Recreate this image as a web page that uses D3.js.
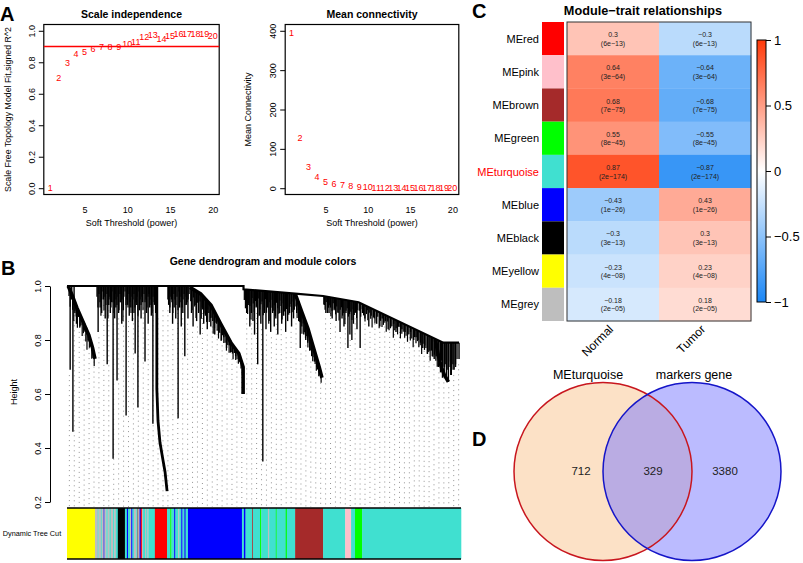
<!DOCTYPE html>
<html><head><meta charset="utf-8">
<script src="https://cdn.jsdelivr.net/npm/d3@7"></script>
<style>body{margin:0;background:#fff} text{font-family:"Liberation Sans",Arial,Helvetica,sans-serif}</style>
</head><body><svg id="c" width="803" height="563"></svg>
<script>
// ---------------- DATA ----------------
// Panel A
const powers = [1,2,3,4,5,6,7,8,9,10,11,12,13,14,15,16,17,18,19,20];
const sftR2 = [0.0,0.70,0.797,0.851,0.864,0.885,0.895,0.899,0.899,0.914,0.929,0.964,0.975,0.952,0.971,0.981,0.983,0.983,0.983,0.969];
const meanK = [394,129,55,28,16,11,7.5,5,3.4,2.5,2,1.6,1.3,1.1,0.9,0.8,0.7,0.6,0.5,0.4];
const r2Cut = 0.9;
const r2Ticks = [0,0.2,0.4,0.6,0.8,1.0];
const kTicks = [0,100,200,300,400];
const powerTicks = [5,10,15,20];

// Panel B : dendrogram (leaf index 0..1000, height)
const heightTicks = [0.2,0.4,0.6,0.8,1.0];
const canopy = [[0,1.0],[448,1.0],[448,0.988],[579,0.972],[650,0.963],[740,0.94],[955,0.79],[995,0.79]];
const sweeps = [
  [[3,1.0],[12,0.97],[25,0.92],[40,0.87],[55,0.82],[65,0.77],[71,0.73]],
  [[228,1.0],[228,0.62],[231,0.5],[236,0.42],[243,0.36],[249,0.31],[254,0.24]],
  [[312,0.995],[340,0.97],[365,0.93],[390,0.86],[416,0.79],[436,0.75],[447,0.70],[447,0.6]],
  [[579,0.972],[597,0.9],[612,0.84],[624,0.78],[640,0.7],[647,0.66]],
  [[935,0.8],[943,0.74],[950,0.7],[958,0.67],[968,0.645]]
];
// long branches: [leaf index, top height, bottom height]
const branches = [
  [8,0.985,0.69],[12,1.0,0.95],[15,0.96,0.46],[18,1.0,0.93],[20,0.94,0.9],[24,0.93,0.86],[28,0.91,0.89],[33,0.9,0.85],[37,0.885,0.87],[42,0.87,0.84],[46,0.86,0.83],[50,0.845,0.82],[54,0.823,0.8],[58,0.81,0.79],[63,0.78,0.76],[68,0.75,0.74],
  [79,1.0,0.83],[84,1.0,0.92],[88,1.0,0.9],[93,1.0,0.95],[97,1.0,0.88],[102,1.0,0.71],[106,1.0,0.93],[110,1.0,0.9],[113,1.0,0.94],[117,1.0,0.36],[121,1.0,0.88],[124,1.0,0.92],[127,1.0,0.65],[131,1.0,0.9],[135,1.0,0.94],[139,1.0,0.86],[143,1.0,0.91],[150,1.0,0.52],[154,1.0,0.93],[158,1.0,0.89],[162,1.0,0.92],[166,1.0,0.87],[170,1.0,0.9],[173,1.0,0.75],[177,1.0,0.93],[180,1.0,0.55],[184,1.0,0.91],[188,1.0,0.88],[192,1.0,0.94],[198,1.0,0.72],[202,1.0,0.9],[206,1.0,0.86],[210,1.0,0.92],[214,1.0,0.89],[218,1.0,0.49],[222,1.0,0.93],[225,1.0,0.9],
  [258,1.0,0.93],[261,1.0,0.9],[265,1.0,0.95],[268,1.0,0.86],[272,1.0,0.92],[276,1.0,0.88],[282,1.0,0.51],[286,1.0,0.92],[290,1.0,0.85],[294,1.0,0.9],[299,1.0,0.74],[303,1.0,0.93],[307,1.0,0.88],
  [316,0.99,0.9],[320,0.99,0.85],[325,0.985,0.93],[329,0.98,0.87],[334,0.975,0.9],[338,0.972,0.82],[343,0.965,0.92],[347,0.96,0.86],[351,0.955,0.89],[356,0.945,0.84],[360,0.94,0.9],[365,0.93,0.85],[370,0.92,0.87],[375,0.9,0.82],[380,0.89,0.86],[386,0.87,0.83],[392,0.855,0.8],[398,0.84,0.81],[405,0.82,0.77],[412,0.8,0.78],[420,0.78,0.75],[428,0.765,0.74],[440,0.74,0.72],
  [452,0.988,0.95],[456,0.988,0.9],[460,0.987,0.93],[464,0.986,0.85],[468,0.986,0.9],[472,0.985,0.87],[476,0.984,0.82],[480,0.984,0.92],[484,0.983,0.71],[488,0.983,0.89],[492,0.982,0.86],[497,0.981,0.35],[501,0.98,0.9],[505,0.98,0.84],[509,0.98,0.92],[513,0.979,0.87],[517,0.979,0.83],[522,0.978,0.9],[526,0.978,0.85],[530,0.977,0.88],[535,0.977,0.82],[540,0.976,0.9],[545,0.976,0.86],[550,0.975,0.89],[555,0.975,0.83],[560,0.974,0.87],[565,0.974,0.9],[570,0.973,0.85],[575,0.973,0.88],
  [583,0.96,0.9],[588,0.945,0.87],[592,0.93,0.77],[596,0.905,0.85],[601,0.885,0.82],[606,0.865,0.8],[611,0.845,0.79],[616,0.82,0.76],[621,0.8,0.74],[628,0.76,0.72],[634,0.73,0.7],[640,0.7,0.68],
  [653,0.963,0.93],[657,0.962,0.9],[661,0.961,0.94],[665,0.96,0.9],[669,0.959,0.92],[673,0.958,0.88],[678,0.957,0.91],[683,0.955,0.87],[688,0.954,0.9],[693,0.953,0.83],[698,0.952,0.88],[703,0.95,0.85],[708,0.949,0.9],[713,0.948,0.77],[718,0.947,0.82],[723,0.945,0.8],[727,0.944,0.86],[731,0.943,0.9],[736,0.941,0.84],
  [744,0.937,0.77],[750,0.933,0.9],[756,0.929,0.88],[762,0.925,0.91],[766,0.922,0.85],[772,0.918,0.89],[780,0.912,0.88],[786,0.908,0.86],[794,0.902,0.85],[800,0.898,0.88],[808,0.893,0.87],[815,0.888,0.84],[822,0.883,0.85],[829,0.878,0.86],[835,0.874,0.83],[842,0.869,0.85],[850,0.863,0.84],[858,0.858,0.83],[865,0.853,0.82],[872,0.848,0.83],[880,0.842,0.8],[886,0.838,0.81],[891,0.835,0.8],[897,0.83,0.79],[903,0.826,0.77],[908,0.823,0.78],[915,0.818,0.75],[921,0.814,0.76],[927,0.809,0.74],[932,0.806,0.73],[937,0.802,0.74],[943,0.798,0.7],[948,0.795,0.68],[953,0.791,0.66],[958,0.79,0.7],[963,0.79,0.66],[968,0.79,0.645],[974,0.79,0.67],[980,0.79,0.69],[986,0.79,0.71],[995,0.79,0.73]
];
// short hairs hanging from a parent outline: parent (-1 = canopy, else sweep no.), leaf range, hair lengths
const fringes = [
  {parent:0, from:5, to:69, len:[0.03,0.06,0.02,0.05,0.08,0.03,0.04,0.07,0.02,0.05,0.03,0.06,0.04,0.02,0.05,0.07,0.03,0.04,0.02,0.05,0.03,0.04]},
  {parent:-1, from:76, to:226, len:[0.04,0.08,0.03,0.06,0.11,0.05,0.02,0.09,0.04,0.07,0.03,0.12,0.05,0.04,0.08,0.02,0.06,0.1,0.03,0.05,0.07,0.04,0.09,0.03,0.06,0.05,0.13,0.04,0.02,0.07,0.05,0.08,0.03,0.06,0.1,0.04,0.05,0.03,0.08,0.06,0.04,0.11,0.02,0.05,0.07,0.04,0.09,0.03,0.06,0.05,0.08,0.04,0.03,0.07,0.05,0.1,0.04,0.06,0.03,0.05]},
  {parent:-1, from:256, to:310, len:[0.05,0.03,0.08,0.04,0.06,0.1,0.03,0.05,0.07,0.04,0.09,0.02,0.06,0.04,0.08,0.05,0.03,0.07,0.04,0.06,0.05,0.03]},
  {parent:2, from:314, to:445, len:[0.05,0.08,0.03,0.06,0.1,0.04,0.07,0.03,0.09,0.05,0.06,0.04,0.08,0.03,0.07,0.05,0.04,0.09,0.06,0.03,0.05,0.07,0.04,0.06,0.03,0.05,0.04,0.06,0.03,0.05,0.04,0.03,0.05,0.02,0.04,0.03,0.04,0.02,0.03,0.04]},
  {parent:-1, from:450, to:577, len:[0.04,0.07,0.03,0.09,0.05,0.06,0.11,0.03,0.05,0.08,0.04,0.06,0.1,0.03,0.07,0.05,0.04,0.09,0.06,0.03,0.08,0.05,0.12,0.04,0.06,0.03,0.07,0.05,0.09,0.04,0.06,0.08,0.03,0.05,0.1,0.04,0.07,0.03,0.06,0.05,0.08,0.04,0.05,0.07,0.03,0.06]},
  {parent:3, from:581, to:645, len:[0.04,0.07,0.03,0.06,0.05,0.08,0.03,0.05,0.06,0.04,0.07,0.03,0.05,0.04,0.06,0.03,0.04,0.05,0.03,0.04,0.02,0.03]},
  {parent:-1, from:652, to:738, len:[0.03,0.05,0.02,0.06,0.04,0.03,0.07,0.05,0.02,0.04,0.06,0.03,0.05,0.08,0.04,0.03,0.06,0.05,0.09,0.04,0.03,0.06,0.05,0.04,0.07,0.03,0.05,0.04,0.06,0.03]},
  {parent:-1, from:742, to:990, len:[0.03,0.05,0.02,0.04,0.06,0.03,0.05,0.02,0.04,0.07,0.03,0.05,0.04,0.02,0.06,0.03,0.05,0.04,0.03,0.06,0.02,0.05,0.04,0.03,0.07,0.04,0.03,0.05,0.02,0.06,0.04,0.03,0.05,0.04,0.06,0.03,0.05,0.04,0.07,0.03,0.05,0.04,0.06,0.05,0.08,0.04,0.06,0.05,0.07,0.06,0.09,0.05,0.07,0.06,0.08,0.1,0.06,0.08,0.07,0.09,0.11,0.08,0.1,0.07,0.09,0.12,0.08,0.1,0.09,0.06]}
];
// module colour strip [from leaf, to leaf, module]
const colorSegs = [
  [0,71,'yellow'],
  [71,78,'grey'],[78,80,'turquoise'],[80,86,'grey'],[86,88,'turquoise'],[88,93,'grey'],[93,95,'blue'],[95,100,'grey'],[100,103,'turquoise'],[103,108,'grey'],[108,111,'turquoise'],[111,117,'grey'],[117,120,'turquoise'],[120,124,'grey'],[124,129,'turquoise'],
  [129,147,'black'],
  [147,152,'turquoise'],[152,155,'blue'],[155,160,'turquoise'],[160,163,'grey'],[163,166,'blue'],[166,170,'turquoise'],[170,176,'grey'],[176,179,'turquoise'],[179,181,'brown'],[181,184,'grey'],[184,187,'blue'],[187,190,'red'],[190,193,'grey'],[193,198,'turquoise'],[198,201,'grey'],[201,204,'turquoise'],[204,207,'grey'],[207,223,'turquoise'],
  [223,254,'red'],
  [254,262,'turquoise'],[262,265,'green'],[265,272,'turquoise'],[272,275,'blue'],[275,282,'turquoise'],[282,285,'grey'],[285,290,'turquoise'],[290,293,'blue'],[293,298,'turquoise'],[298,301,'blue'],[301,307,'turquoise'],
  [307,444,'blue'],
  [444,449,'turquoise'],[449,453,'blue'],[453,470,'turquoise'],[470,472,'brown'],[472,490,'turquoise'],[490,493,'green'],[493,510,'turquoise'],[510,513,'grey'],[513,530,'turquoise'],[530,532,'green'],[532,555,'turquoise'],[555,558,'green'],[558,579,'turquoise'],
  [579,650,'brown'],
  [650,706,'turquoise'],[706,721,'pink'],[721,731,'turquoise'],[731,749,'green'],[749,1000,'turquoise']
];

// Panel C
const modules = ['MEred','MEpink','MEbrown','MEgreen','MEturquoise','MEblue','MEblack','MEyellow','MEgrey'];
const moduleCols = ['red','pink','brown','green','turquoise','blue','black','yellow','grey'];
const traits = ['Normal','Tumor'];
const corNormal = [0.3,0.64,0.68,0.55,0.87,-0.43,-0.3,-0.23,-0.18];
const corTumor = [-0.3,-0.64,-0.68,-0.55,-0.87,0.43,0.3,0.23,0.18];
const pValues = ['6e−13','3e−64','7e−75','8e−45','2e−174','1e−26','3e−13','4e−08','2e−05'];
const legendTicks = [1,0.5,0,-0.5,-1];

// Panel D
const setNames = ['MEturquoise','markers gene'];
const vennCounts = [712,329,3380];

// ---------------- DRAW ----------------
const svg = d3.select('#c');
const rcol = {yellow:'#FFFF00',grey:'#BEBEBE',turquoise:'#40E0D0',blue:'#0000FF',black:'#000000',red:'#FF0000',green:'#00FF00',brown:'#A52A2A',pink:'#FFC0CB'};
const minus = s => String(s).replace('-', '−');

[['A',0,21],['B',1,275],['C',472,18],['D',472,446]].forEach(([t,x,y]) =>
  svg.append('text').attr('x',x).attr('y',y).attr('font-size',20).attr('font-weight','bold').text(t));

function scatterPanel(cfg){
  const x = d3.scaleLinear().domain([0.24,20.76]).range([cfg.x0,cfg.x1]);
  const y = d3.scaleLinear().domain(cfg.ydom).range([194.5,24.5]);
  const g = svg.append('g');
  g.append('rect').attr('x',cfg.x0).attr('y',24.5).attr('width',cfg.x1-cfg.x0).attr('height',170)
    .attr('fill','none').attr('stroke','#000').attr('stroke-width',1.2);
  const ya = g.append('g').attr('transform',`translate(${cfg.x0},0)`)
    .call(d3.axisLeft(y).tickValues(cfg.yticks).tickSize(5).tickSizeOuter(0).tickFormat(cfg.fmt));
  ya.select('.domain').remove();
  ya.selectAll('line').attr('stroke','#000');
  ya.selectAll('text').attr('x',null).attr('dy',null).attr('text-anchor','middle')
    .attr('transform','translate(-9,0) rotate(-90)').attr('font-size',9).attr('font-family',null).attr('fill','#000');
  const xa = g.append('g').attr('transform','translate(0,194.5)')
    .call(d3.axisBottom(x).tickValues(powerTicks).tickSize(0).tickPadding(12));
  xa.select('.domain').remove();
  xa.selectAll('text').attr('font-size',9).attr('font-family',null).attr('fill','#000');
  g.append('text').attr('x',(cfg.x0+cfg.x1)/2).attr('y',226).attr('text-anchor','middle').attr('font-size',9).text('Soft Threshold (power)');
  g.append('text').attr('transform',`translate(${cfg.ylabX},109.5) rotate(-90)`).attr('text-anchor','middle').attr('font-size',cfg.ylabSize).text(cfg.ylab);
  g.append('text').attr('x',(cfg.x0+cfg.x1)/2).attr('y',18).attr('text-anchor','middle').attr('font-size',10.5).attr('font-weight','bold').text(cfg.title);
  if (cfg.cut!=null) g.append('line').attr('x1',cfg.x0).attr('x2',cfg.x1).attr('y1',y(cfg.cut)).attr('y2',y(cfg.cut)).attr('stroke','#FF0000').attr('stroke-width',1.4);
  g.selectAll('text.pt').data(powers).enter().append('text').attr('class','pt')
    .attr('x',d=>x(d)).attr('y',(d,i)=>y(cfg.vals[i])).attr('dy','0.35em').attr('text-anchor','middle')
    .attr('font-size',9).attr('fill','#FF0000').text(d=>d);
}
scatterPanel({x0:43.8,x1:219.2,ydom:[-0.04,1.04],yticks:r2Ticks,fmt:d3.format('.1f'),vals:sftR2,cut:r2Cut,
  title:'Scale independence',ylab:'Scale Free Topology Model Fit,signed R^2',ylabX:11,ylabSize:8.8});
scatterPanel({x0:285.2,x1:458.8,ydom:[-16,416],yticks:kTicks,fmt:d3.format('d'),vals:meanK,cut:null,
  title:'Mean connectivity',ylab:'Mean Connectivity',ylabX:251,ylabSize:9});

// ---------- Panel B
const dx = d3.scaleLinear().domain([0,1000]).range([67,461]);
const dy = d3.scaleLinear().domain([0.2,1.0]).range([502,286]);
const gB = svg.append('g');
gB.append('text').attr('x',263).attr('y',265).attr('text-anchor','middle').attr('font-size',10.5).attr('font-weight','bold').text('Gene dendrogram and module colors');
const ba = gB.append('g').attr('transform','translate(50,0)')
  .call(d3.axisLeft(dy).tickValues(heightTicks).tickSize(5).tickSizeOuter(0).tickFormat(d3.format('.1f')));
ba.select('.domain').attr('stroke','#000');
ba.selectAll('line').attr('stroke','#000');
ba.selectAll('text').attr('x',null).attr('dy',null).attr('text-anchor','middle')
  .attr('transform','translate(-9,0) rotate(-90)').attr('font-size',9).attr('font-family',null).attr('fill','#000');
gB.append('text').attr('transform','translate(17,392) rotate(-90)').attr('text-anchor','middle').attr('font-size',9).text('Height');

// height of a parent outline at a leaf index
function outlineAt(pts, idx){
  for (let i=1;i<pts.length;i++){
    const a=pts[i-1], b=pts[i];
    if (idx>=a[0] && idx<=b[0] && b[0]>a[0]) return a[1]+(b[1]-a[1])*(idx-a[0])/(b[0]-a[0]);
  }
  return idx<pts[0][0] ? pts[0][1] : pts[pts.length-1][1];
}
// dotted guides
const nGuide = 80;
const tall = branches.filter(b=>b[2]>0.6);
for (let i=0;i<nGuide;i++){
  const idx = 6 + i*988/(nGuide-1);
  const near = d3.least(tall, b=>Math.abs(b[0]-idx));
  gB.append('line').attr('x1',dx(idx)).attr('x2',dx(idx)).attr('y1',dy(near[2]-0.02)).attr('y2',507)
    .attr('stroke','#888').attr('stroke-width',0.9).attr('stroke-dasharray','1 4');
}
// fringe hairs
const hairs = [];
fringes.forEach(f=>{
  const parent = f.parent<0 ? canopy : sweeps[f.parent];
  f.len.forEach((l,i)=>{
    const idx = f.from + i*(f.to-f.from)/(f.len.length-1);
    const top = outlineAt(parent, idx);
    hairs.push([idx, top, top-l]);
  });
});
gB.selectAll('line.hr').data(hairs).enter().append('line').attr('class','hr')
  .attr('x1',d=>dx(d[0])).attr('x2',d=>dx(d[0])).attr('y1',d=>dy(d[1])).attr('y2',d=>dy(d[2]))
  .attr('stroke','#000').attr('stroke-width',1.2);
gB.selectAll('line.br').data(branches).enter().append('line').attr('class','br')
  .attr('x1',d=>dx(d[0])).attr('x2',d=>dx(d[0])).attr('y1',d=>dy(d[1])).attr('y2',d=>dy(d[2]))
  .attr('stroke','#000').attr('stroke-width',1.4);
const line = d3.line().x(d=>dx(d[0])).y(d=>dy(d[1]));
sweeps.forEach((s,i) => gB.append('path').attr('d',line(s)).attr('fill','none').attr('stroke','#000')
  .attr('stroke-width', i===1 ? 2.8 : 3.6).attr('stroke-linejoin','round'));
gB.append('path').attr('d',line(canopy)).attr('fill','none').attr('stroke','#000').attr('stroke-width',2.2);

// colour strip
gB.selectAll('rect.seg').data(colorSegs).enter().append('rect').attr('class','seg')
  .attr('x',d=>dx(d[0])).attr('width',d=>dx(d[1])-dx(d[0])+0.3).attr('y',508).attr('height',51)
  .attr('fill',d=>rcol[d[2]]);
[508,559].forEach(yy=>gB.append('line').attr('x1',dx(0)).attr('x2',dx(1000)).attr('y1',yy).attr('y2',yy).attr('stroke','#000').attr('stroke-width',1.5));
gB.append('text').attr('x',32).attr('y',536).attr('text-anchor','middle').attr('font-size',7.3).text('Dynamic Tree Cut');

// ---------- Panel C
const gC = svg.append('g');
gC.append('text').attr('x',643).attr('y',15).attr('text-anchor','middle').attr('font-size',12.7).attr('font-weight','bold').text('Module−trait relationships');
const rowY = d3.scaleBand().domain(modules).range([22,321]);
const colX = d3.scaleBand().domain(traits).range([567,751]);
const cscale = d3.scaleLinear().domain([-1,0,1]).range(['#1A86F5','#FFFFFF','#FF3A0A']);
modules.forEach((m,i)=>{
  gC.append('rect').attr('x',542).attr('y',rowY(m)).attr('width',22).attr('height',rowY.bandwidth()).attr('fill',rcol[moduleCols[i]]);
  gC.append('text').attr('x',539).attr('y',rowY(m)+rowY.bandwidth()/2+4).attr('text-anchor','end').attr('font-size',11)
    .attr('fill', m==='MEturquoise' ? '#FF0000' : '#000').text(m);
  [[traits[0],corNormal[i]],[traits[1],corTumor[i]]].forEach(([t,v])=>{
    gC.append('rect').attr('x',colX(t)).attr('y',rowY(m)).attr('width',colX.bandwidth()+0.3).attr('height',rowY.bandwidth()+0.3).attr('fill',cscale(v));
    const cx = colX(t)+colX.bandwidth()/2, cy = rowY(m)+rowY.bandwidth()/2;
    gC.append('text').attr('x',cx).attr('y',cy-1.5).attr('text-anchor','middle').attr('font-size',7).attr('fill','#222').text(minus(v));
    gC.append('text').attr('x',cx).attr('y',cy+7).attr('text-anchor','middle').attr('font-size',7).attr('fill','#222').text('('+pValues[i]+')');
  });
});
gC.append('rect').attr('x',567).attr('y',22).attr('width',184).attr('height',299).attr('fill','none').attr('stroke','#333').attr('stroke-width',1);
traits.forEach(t=>{
  gC.append('text').attr('transform',`translate(${colX(t)+colX.bandwidth()/2+1},330) rotate(-45)`).attr('text-anchor','end').attr('font-size',12).text(t);
});
const ly = d3.scaleLinear().domain([-1,1]).range([302,40]);
const defs = svg.append('defs');
const grad = defs.append('linearGradient').attr('id','lg').attr('x1',0).attr('x2',0).attr('y1',1).attr('y2',0);
[-1,-0.5,0,0.5,1].forEach(v=>grad.append('stop').attr('offset',(v+1)/2).attr('stop-color',cscale(v)));
gC.append('rect').attr('x',757).attr('y',40).attr('width',9).attr('height',262).attr('fill','url(#lg)').attr('stroke','#000').attr('stroke-width',1);
const la = gC.append('g').attr('transform','translate(766,0)').call(d3.axisRight(ly).tickValues(legendTicks).tickSize(5).tickPadding(3).tickFormat(d=>minus(d)));
la.select('.domain').remove();
la.selectAll('line').attr('stroke','#000');
la.selectAll('text').attr('font-size',13).attr('font-family',null).attr('fill','#000');

// ---------- Panel D
const gD = svg.append('g');
const vx = d3.scaleLinear().domain([0,1]).range([603,692]);
gD.append('circle').attr('cx',vx(0)).attr('cy',471.5).attr('r',89).attr('fill','#FCE1C6').attr('stroke','none');
gD.append('circle').attr('cx',vx(1)).attr('cy',471.5).attr('r',89).attr('fill','rgba(120,120,255,0.5)').attr('stroke','none');
gD.append('circle').attr('cx',vx(0)).attr('cy',471.5).attr('r',89).attr('fill','none').attr('stroke','#C8161E').attr('stroke-width',1.5);
gD.append('circle').attr('cx',vx(1)).attr('cy',471.5).attr('r',89).attr('fill','none').attr('stroke','#1515C8').attr('stroke-width',1.5);
gD.append('text').attr('x',588).attr('y',379).attr('text-anchor','middle').attr('font-size',12.5).text(setNames[0]);
gD.append('text').attr('x',694).attr('y',379).attr('text-anchor','middle').attr('font-size',12.5).text(setNames[1]);
[[581,vennCounts[0]],[653,vennCounts[1]],[725,vennCounts[2]]].forEach(([x,t])=>
  gD.append('text').attr('x',x).attr('y',475).attr('text-anchor','middle').attr('font-size',11.5).attr('fill','#222').text(t));
</script></body></html>
